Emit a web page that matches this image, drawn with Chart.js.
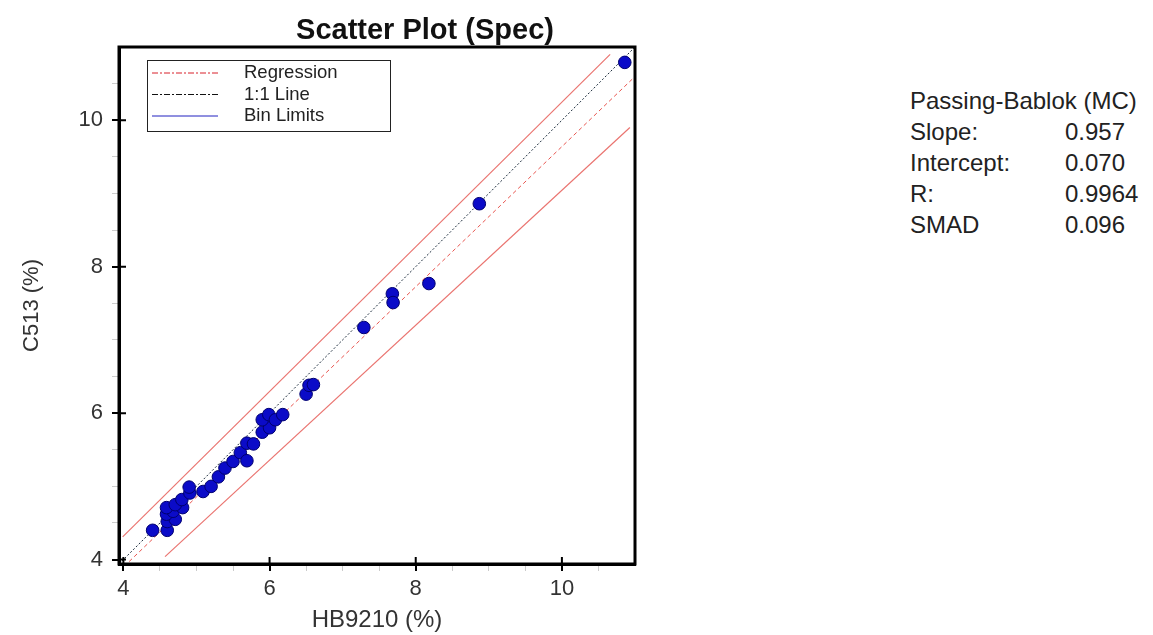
<!DOCTYPE html>
<html>
<head>
<meta charset="utf-8">
<script src="https://cdn.jsdelivr.net/npm/chart.js@4.4.1/dist/chart.umd.min.js"></script>
<style>
  body { margin: 0; background: #fff; }
  #wrap { position: relative; width: 1153px; height: 635px; }
  #chart { position: absolute; left: 0; top: 0; }
  #stats { position: absolute; left: 910px; top: 85px; font-family: "Liberation Sans", Arial, sans-serif; font-size: 24px; color: #222; line-height: 31px; }
  #stats .row { display: flex; }
  #stats .lab { width: 155px; }
</style>
</head>
<body>
<div id="wrap">
  <canvas id="chart" width="850" height="635"></canvas>
  <div id="stats"></div>
</div>
<script>
// measured values (HB9210 vs C513, %)
const xValues = [4.40, 4.60, 4.60, 4.71, 4.59, 4.68, 4.59, 4.81, 4.71, 4.80, 4.91, 4.90, 5.09, 5.20, 5.30, 5.39, 5.50, 5.60,
                 5.69, 5.69, 5.78, 5.90, 6.00, 5.90, 5.99, 6.08, 6.18, 6.50, 6.54, 6.60, 7.29, 7.68, 7.69, 8.18, 8.87, 10.86];
const yValues = [4.40, 4.40, 4.52, 4.55, 4.62, 4.66, 4.71, 4.71, 4.75, 4.82, 4.91, 4.99, 4.93, 5.00, 5.13, 5.25, 5.34, 5.46,
                 5.35, 5.59, 5.58, 5.74, 5.80, 5.91, 5.98, 5.91, 5.98, 6.26, 6.38, 6.39, 7.17, 7.63, 7.51, 7.77, 8.86, 10.79];

const statLabels = ['Slope:', 'Intercept:', 'R:', 'SMAD'];
const statValues = ['0.957', '0.070', '0.9964', '0.096'];
const slope = 0.957;
const intercept = 0.070;

// bin limit end points
const binUpperX = [3.99, 10.66];
const binUpperY = [4.31, 10.90];
const binLowerX = [4.57, 10.93];
const binLowerY = [4.04, 9.90];

const axisMin = 3.94;
const axisMax = 11.0;
const majorTicks = [4, 6, 8, 10];
const tickPositions = [4, 4.5, 5, 5.5, 6, 6.5, 7, 7.5, 8, 8.5, 9, 9.5, 10, 10.5];

const FONT = '"Liberation Sans", Arial, sans-serif';

// stats panel
const stats = document.getElementById('stats');
stats.innerHTML = '<div>Passing-Bablok (MC)</div>' +
  statLabels.map((l, i) => '<div class="row"><span class="lab">' + l + '</span><span>' + statValues[i] + '</span></div>').join('');

const points = xValues.map((x, i) => ({ x: x, y: yValues[i] }));
const regression = [axisMin, axisMax].map((x) => ({ x: x, y: slope * x + intercept }));
const identity = [{ x: axisMin, y: axisMin }, { x: axisMax, y: axisMax }];
const binUpper = binUpperX.map((x, i) => ({ x: x, y: binUpperY[i] }));
const binLower = binLowerX.map((x, i) => ({ x: x, y: binLowerY[i] }));

const isMajor = (v) => majorTicks.includes(v);

function axisOpts(titleText, isX) {
    return {
        type: 'linear',
        min: axisMin,
        max: axisMax,
        afterBuildTicks: (scale) => { scale.ticks = tickPositions.map((v) => ({ value: v })); },
        afterFit: (scale) => { if (isX) scale.height = 71; else scale.width = 119; },
        ticks: {
            autoSkip: false,
            maxRotation: 0,
            padding: isX ? 5 : 9,
            color: '#333',
            font: { family: FONT, size: 22 },
            callback: (v) => isMajor(v) ? String(v) : ''
        },
        grid: {
            drawOnChartArea: false,
            drawTicks: true,
            tickLength: 7,
            color: (ctx) => ctx.tick && isMajor(ctx.tick.value) ? '#000' : '#ccc',
            lineWidth: (ctx) => ctx.tick && isMajor(ctx.tick.value) ? 2 : 1
        },
        border: { display: true, color: '#000', width: 3 },
        title: {
            display: true,
            text: titleText,
            color: '#333',
            font: { family: FONT, size: isX ? 24 : 22 },
            padding: isX ? { top: 0, bottom: 0 } : { top: 19, bottom: 0 }
        }
    };
}

// box, inner ticks, title and legend
const framePlugin = {
    id: 'frame',
    afterDraw(chart) {
        const { ctx, chartArea: a, scales } = chart;
        ctx.save();
        ctx.strokeStyle = '#000';
        ctx.lineWidth = 3;
        ctx.strokeRect(a.left, a.top, a.right - a.left, a.bottom - a.top);

        ctx.lineWidth = 2;
        majorTicks.forEach((v) => {
            const px = scales.x.getPixelForValue(v);
            const py = scales.y.getPixelForValue(v);
            ctx.beginPath();
            ctx.moveTo(px, a.bottom); ctx.lineTo(px, a.bottom - 7);
            ctx.moveTo(a.left, py); ctx.lineTo(a.left + 7, py);
            ctx.stroke();
        });

        ctx.fillStyle = '#111';
        ctx.font = 'bold 29px ' + FONT;
        ctx.textAlign = 'center';
        ctx.textBaseline = 'middle';
        ctx.fillText('Scatter Plot (Spec)', 425, 31);

        // legend
        const lx = 147, ly = 60;
        ctx.lineWidth = 1;
        ctx.strokeStyle = '#222';
        ctx.strokeRect(lx + 0.5, ly + 0.5, 243, 71);
        ctx.font = '18.5px ' + FONT;
        ctx.textAlign = 'left';
        ctx.fillStyle = '#222';
        const items = chart.data.datasets.filter((d) => d.legendColor);
        items.forEach((d, i) => {
            const y = ly + 13 + i * 21.5;
            ctx.beginPath();
            ctx.strokeStyle = d.legendColor;
            ctx.setLineDash(d.legendDash || []);
            ctx.moveTo(lx + 5, y); ctx.lineTo(lx + 71, y);
            ctx.stroke();
            ctx.setLineDash([]);
            ctx.fillText(d.label, lx + 97, y);
        });
        ctx.restore();
    }
};

const config = {
    type: 'scatter',
    data: {
        datasets: [
            {
                label: 'Data',
                data: points,
                order: 0,
                pointRadius: 6.3,
                pointHoverRadius: 6.3,
                backgroundColor: '#0b0bc8',
                borderColor: '#000070',
                borderWidth: 1
            },
            {
                type: 'line',
                label: 'Regression',
                data: regression,
                order: 1,
                borderColor: '#e8554f',
                borderWidth: 1,
                borderDash: [4, 3],
                pointRadius: 0,
                legendColor: '#d8202a',
                legendDash: [6, 2, 2, 2]
            },
            {
                type: 'line',
                label: '1:1 Line',
                data: identity,
                order: 2,
                borderColor: '#1a2a3a',
                borderWidth: 1,
                borderDash: [2, 2],
                pointRadius: 0,
                legendColor: '#111',
                legendDash: [6, 2, 2, 2]
            },
            {
                type: 'line',
                label: 'Bin Limits',
                data: binUpper,
                order: 3,
                borderColor: '#ea7470',
                borderWidth: 1.2,
                pointRadius: 0,
                legendColor: '#2020c0'
            },
            {
                type: 'line',
                label: 'Bin Limits (low)',
                data: binLower,
                order: 3,
                borderColor: '#ea7470',
                borderWidth: 1.2,
                pointRadius: 0
            }
        ]
    },
    options: {
        responsive: false,
        animation: false,
        layout: { padding: { top: 47, right: 215, left: 0, bottom: 0 } },
        plugins: {
            legend: { display: false },
            tooltip: { enabled: false },
            title: { display: false }
        },
        scales: {
            x: axisOpts('HB9210 (%)', true),
            y: axisOpts('C513 (%)', false)
        }
    },
    plugins: [framePlugin]
};

const chart = new Chart(document.getElementById('chart'), config);
</script>
</body>
</html>
